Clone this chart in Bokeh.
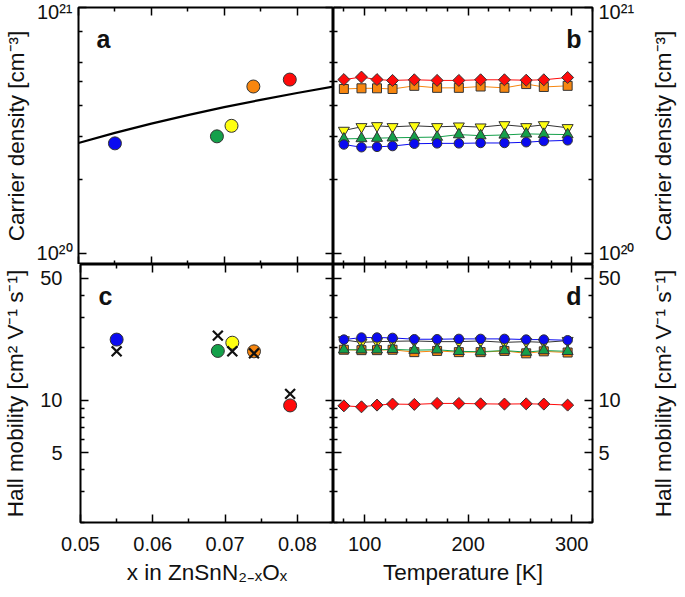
import numpy as np
from bokeh.plotting import figure
from bokeh.layouts import column, row
from bokeh.models import (LinearAxis, LogAxis, FixedTicker, CustomJSTickFormatter,
                          PrintfTickFormatter, Label, Range1d)
from bokeh.embed import file_html
from bokeh.resources import INLINE

# ---------------- data ----------------
# composition series (blue, green, yellow, orange, red)
x_comp = [0.055, 0.069, 0.071, 0.074, 0.079]
colors = ["#0a0af0", "#14a04a", "#ffff10", "#f7860f", "#ff0a0a"]
n_comp = [2.80e20, 2.99e20, 3.30e20, 4.77e20, 5.09e20]
mu_comp = [22.3, 19.2, 21.4, 19.1, 9.36]
mu_cross = [19.1, 23.5, 19.1, 18.6, 10.9]
fit_x = [0.050, 0.055, 0.060, 0.065, 0.070, 0.075, 0.080, 0.085]
fit_n = [2.81e20, 3.09e20, 3.37e20, 3.65e20, 3.93e20, 4.21e20, 4.49e20, 4.77e20]

# temperature series
T = [80, 97, 112, 127, 148, 170, 191, 212, 235, 256, 273, 296]
n_blue = [2.77e20, 2.70e20, 2.71e20, 2.73e20, 2.79e20, 2.80e20, 2.80e20, 2.81e20, 2.81e20, 2.83e20, 2.86e20, 2.88e20]
n_green = [2.92e20, 2.93e20, 2.94e20, 2.95e20, 2.96e20, 2.97e20, 3.04e20, 3.01e20, 3.03e20, 3.06e20, 3.05e20, 3.04e20]
n_yellow = [3.16e20, 3.27e20, 3.30e20, 3.27e20, 3.30e20, 3.27e20, 3.29e20, 3.26e20, 3.33e20, 3.27e20, 3.33e20, 3.24e20]
n_orange = [4.66e20, 4.69e20, 4.69e20, 4.66e20, 4.80e20, 4.71e20, 4.71e20, 4.77e20, 4.71e20, 4.88e20, 4.75e20, 4.80e20]
n_red = [5.09e20, 5.21e20, 5.09e20, 5.05e20, 5.08e20, 5.05e20, 5.05e20, 5.08e20, 5.08e20, 5.06e20, 5.08e20, 5.19e20]

mu_blue = [22.3, 22.9, 22.9, 22.8, 22.4, 22.4, 22.5, 22.5, 22.5, 22.3, 22.3, 22.1]
mu_yellow = [22.2, 21.5, 21.7, 21.8, 21.9, 21.7, 21.7, 21.9, 21.5, 21.7, 21.5, 22.0]
mu_orange = [19.5, 19.4, 19.4, 19.5, 18.9, 19.2, 18.9, 18.9, 19.2, 18.6, 19.1, 18.8]
mu_green = [19.5, 19.5, 19.5, 19.6, 19.4, 19.5, 19.1, 19.0, 19.3, 18.9, 19.3, 19.1]
mu_red = [9.31, 9.19, 9.40, 9.53, 9.49, 9.61, 9.61, 9.56, 9.53, 9.56, 9.53, 9.40]

x_ticks = [0.05, 0.06, 0.07, 0.08]
x_minor = [0.055, 0.065, 0.075, 0.085]
t_ticks = [100, 200, 300]
t_minor = [80, 120, 140, 160, 180, 220, 240, 260, 280, 320]
n_ticks = [1e20, 1e21]
n_minor = [2e20, 3e20, 4e20, 5e20, 6e20, 8e20]
mu_ticks = [5, 10, 50]
mu_minor = [2, 3, 4, 6, 7, 8, 9, 20, 30, 40]

N_LABEL = "Carrier density [cm\u207b\u00b3]"
MU_LABEL = "Hall mobility [cm\u00b2 V\u207b\u00b9 s\u207b\u00b9]"
FONT = "Liberation Sans"
LABEL_SIZE = "22.5px"
SUP = CustomJSTickFormatter(code="""
const m = {'0':'\u2070','1':'\u00b9','2':'\u00b2','3':'\u00b3','4':'\u2074','5':'\u2075','6':'\u2076','7':'\u2077','8':'\u2078','9':'\u2079','-':'\u207b'};
const e = Math.round(Math.log10(tick));
return '10' + String(e).split('').map(c => m[c]).join('');
""")


def add_axis(p, side, kind, ticks, minor, fmt=None, standoff=0, label=None, label_standoff=0):
    Ax = LogAxis if kind == "log" else LinearAxis
    ax = Ax(ticker=FixedTicker(ticks=ticks, minor_ticks=minor))
    ax.axis_line_color = None
    ax.major_tick_in = 8
    ax.major_tick_out = 0
    ax.minor_tick_in = 4
    ax.minor_tick_out = 0
    ax.major_tick_line_width = 1.5
    ax.minor_tick_line_width = 1.5
    ax.major_tick_line_color = "black"
    ax.minor_tick_line_color = "black"
    ax.major_label_text_font = FONT
    if fmt is None:
        # tick marks only: labels are empty, tiny and not painted
        ax.formatter = CustomJSTickFormatter(code="return ''")
        ax.major_label_text_font_size = "1px"
        ax.major_label_text_color = None
        ax.major_label_standoff = 0
    else:
        ax.formatter = fmt
        ax.major_label_text_color = "#111111"
        ax.major_label_text_font_size = "20px"
        ax.major_label_standoff = standoff
    if label:
        ax.axis_label = label
        ax.axis_label_text_font = FONT
        ax.axis_label_text_font_size = LABEL_SIZE
        ax.axis_label_text_font_style = "normal"
        ax.axis_label_text_color = "#111111"
        ax.axis_label_standoff = label_standoff
    p.add_layout(ax, side)
    return ax


def make_fig(w, h, xr, yr, ml, mr, mt, mb):
    p = figure(width=w, height=h, x_range=xr, y_range=yr, y_axis_type="log",
               x_axis_location=None, y_axis_location=None,
               output_backend="svg", toolbar_location=None,
               min_border=0, min_border_left=ml, min_border_right=mr,
               min_border_top=mt, min_border_bottom=mb)
    p.outline_line_color = "black"
    p.outline_line_width = 2
    p.grid.visible = False
    p.background_fill_color = "white"
    p.border_fill_color = "white"
    return p


def title_strip(h, mt, mb, txt):
    """narrow strip right of panels b/d holding the right-hand axis title (reads bottom-to-top)"""
    p = figure(width=37, height=h, x_range=Range1d(0, 1), y_range=Range1d(0, 1),
               x_axis_location=None, y_axis_location=None,
               output_backend="svg", toolbar_location=None,
               min_border=0, min_border_left=36, min_border_right=0,
               min_border_top=mt, min_border_bottom=mb)
    p.outline_line_color = None
    p.grid.visible = False
    p.background_fill_color = "white"
    p.border_fill_color = "white"
    add_axis(p, "left", "lin", [], [], None, 0, txt, 1)
    return p


def letter(p, txt, right, fw, fh):
    lab = Label(x=(fw - 11) if right else 18, y=fh - 31, x_units="screen", y_units="screen",
                text=txt, text_font=FONT, text_font_style="bold", text_font_size="25px",
                text_align="right" if right else "left", text_baseline="alphabetic",
                text_color="#111111")
    p.add_layout(lab)


# ---------------- panel a ----------------
pa = make_fig(333, 264, Range1d(0.05, 0.085), Range1d(9e19, 1e21), 75, 0, 7, 0)
add_axis(pa, "left", "log", n_ticks, n_minor, SUP, 6, N_LABEL, 5)
add_axis(pa, "right", "log", n_ticks, n_minor)
add_axis(pa, "above", "lin", x_ticks, x_minor)
add_axis(pa, "below", "lin", x_ticks, x_minor)
pa.line(fit_x, fit_n, line_color="black", line_width=2.2)
pa.scatter(x_comp, n_comp, size=13, marker="circle", fill_color=colors,
           line_color="#333333", line_width=1)
letter(pa, "a", False, 258, 257)

# ---------------- panel b ----------------
pb = make_fig(307, 264, Range1d(70, 320), Range1d(9e19, 1e21), 0, 48, 7, 0)
add_axis(pb, "left", "log", n_ticks, n_minor)
add_axis(pb, "right", "log", n_ticks, n_minor, SUP, 6)
add_axis(pb, "above", "lin", t_ticks, t_minor)
add_axis(pb, "below", "lin", t_ticks, t_minor)
sb = title_strip(264, 7, 0, N_LABEL)

series_b = [
    (n_yellow, colors[2], "#333333", "inverted_triangle", 11, 0),
    (n_orange, colors[3], colors[3], "square", 9, 0),
    (n_green, colors[1], colors[1], "triangle", 11, 0),
    (n_blue, colors[0], colors[0], "circle", 9.5, 0),
    (n_red, colors[4], colors[4], "square", 8.5, np.pi / 4),
]
for vals, fc, lc, mk, sz, ang in series_b:
    pb.line(T, vals, line_color=lc, line_width=1)
for vals, fc, lc, mk, sz, ang in series_b:
    pb.scatter(T, vals, marker=mk, size=sz, angle=ang, fill_color=fc,
               line_color="#333333", line_width=1)
letter(pb, "b", True, 259, 257)

# ---------------- panel c ----------------
pc = make_fig(333, 325, Range1d(0.05, 0.085), Range1d(2, 60), 75, 0, 0, 67)
add_axis(pc, "left", "log", mu_ticks, mu_minor, PrintfTickFormatter(format="%d"), 18,
         MU_LABEL, 9)
add_axis(pc, "below", "lin", x_ticks, x_minor, PrintfTickFormatter(format="%.2f"), 14,
         "x in ZnSnN\u2082\u208b\u2093O\u2093", 6)
add_axis(pc, "right", "log", mu_ticks, mu_minor)
add_axis(pc, "above", "lin", x_ticks, x_minor)
pc.scatter(x_comp, mu_comp, size=13, marker="circle", fill_color=colors,
           line_color="#333333", line_width=1)
pc.scatter(x_comp, mu_cross, size=14, marker="x", line_color="#111111", line_width=2.2)
letter(pc, "c", False, 258, 258)

# ---------------- panel d ----------------
pd_ = make_fig(307, 325, Range1d(70, 320), Range1d(2, 60), 0, 48, 0, 67)
add_axis(pd_, "right", "log", mu_ticks, mu_minor, PrintfTickFormatter(format="%d"), 6)
add_axis(pd_, "below", "lin", t_ticks, t_minor, PrintfTickFormatter(format="%d"), 14,
         "Temperature [K]", 6)
add_axis(pd_, "left", "log", mu_ticks, mu_minor)
add_axis(pd_, "above", "lin", t_ticks, t_minor)
sd = title_strip(325, 0, 67, MU_LABEL)

series_d = [
    (mu_orange, colors[3], colors[3], "square", 9, 0),
    (mu_yellow, colors[2], "#333333", "inverted_triangle", 11, 0),
    (mu_green, colors[1], colors[1], "triangle", 11, 0),
    (mu_blue, colors[0], colors[0], "circle", 9.5, 0),
    (mu_red, colors[4], colors[4], "square", 8.5, np.pi / 4),
]
for vals, fc, lc, mk, sz, ang in series_d:
    pd_.line(T, vals, line_color=lc, line_width=1)
for vals, fc, lc, mk, sz, ang in series_d:
    pd_.scatter(T, vals, marker=mk, size=sz, angle=ang, fill_color=fc,
                line_color="#333333", line_width=1)
letter(pd_, "d", True, 259, 258)

layout = column(row(pa, pb, sb, spacing=0), row(pc, pd_, sd, spacing=0), spacing=0)
open("out.html", "w").write(file_html(layout, INLINE))
